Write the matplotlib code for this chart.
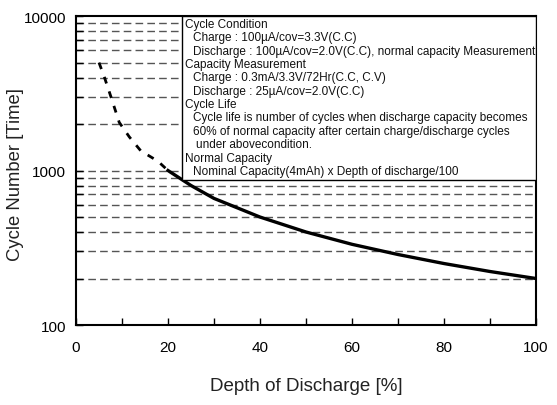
import matplotlib
matplotlib.use('Agg')
import matplotlib.pyplot as plt
from matplotlib.patches import Rectangle
from matplotlib.ticker import FixedLocator, NullFormatter

plt.rcParams['font.family'] = ['Liberation Sans', 'DejaVu Sans']

# dashed (extrapolated) part of the curve
dod_dash = [5, 6.2, 7.6, 9.4, 11.6, 14.1, 17.8, 20]
cyc_dash = [5000, 4000, 3000, 2050, 1650, 1340, 1150, 1000]

# solid part
dod = [20, 25, 30, 40, 50, 60, 70, 80, 90, 100]
cycles = [1000, 800, 660, 500, 400, 333, 286, 250, 222, 200]

grid_levels = [200, 300, 400, 500, 600, 700, 800, 900, 1000,
               2000, 3000, 4000, 5000, 6000, 7000, 8000, 9000]

note_lines = [
    ('Cycle Condition', 0),
    ('Charge : 100µA/cov=3.3V(C.C)', 1),
    ('Discharge : 100µA/cov=2.0V(C.C), normal capacity Measurement', 1),
    ('Capacity Measurement', 0),
    ('Charge : 0.3mA/3.3V/72Hr(C.C, C.V)', 1),
    ('Discharge : 25µA/cov=2.0V(C.C)', 1),
    ('Cycle Life', 0),
    ('Cycle life is number of cycles when discharge capacity becomes', 1),
    ('60% of normal capacity after certain charge/discharge cycles', 1),
    ('under abovecondition.', 2),
    ('Normal Capacity', 0),
    ('Nominal Capacity(4mAh) x Depth of discharge/100', 1),
]

fig = plt.figure(figsize=(5.57, 4.06), dpi=100)
ax = fig.add_axes([0.1364, 0.197, 0.826, 0.761])

for g in grid_levels:
    ax.axhline(g, color='#555555', lw=1, dashes=(5.5, 3), zorder=1)

ax.plot(dod_dash, cyc_dash, color='black', lw=2, dashes=(2.5, 3), zorder=3)
ax.plot(dod, cycles, color='black', lw=2.4, zorder=3)

ax.set_yscale('log')
ax.set_xlim(0, 100)
ax.set_ylim(100, 10000)

ax.xaxis.set_major_locator(FixedLocator([0, 20, 40, 60, 80, 100]))
ax.xaxis.set_minor_locator(FixedLocator([10, 30, 50, 70, 90]))
ax.yaxis.set_major_locator(FixedLocator([100, 1000, 10000]))
ax.yaxis.set_minor_locator(FixedLocator(grid_levels))
ax.yaxis.set_minor_formatter(NullFormatter())
ax.set_yticklabels(['100', '1000', '10000'])

ax.tick_params(axis='x', which='both', direction='in', length=5, width=1,
               labelsize=11, pad=11, top=False)
ax.tick_params(axis='y', which='both', direction='in', length=5, width=1,
               labelsize=11, pad=7, right=False)
for s in ax.spines.values():
    s.set_linewidth(1.5)

ax.set_xlabel('Depth of Discharge [%]', fontsize=13.5, labelpad=16, color='#222222')
ax.set_ylabel('Cycle Number [Time]', fontsize=13.3, color='#222222')
ax.yaxis.set_label_coords(-0.113, 0.49)

# note box
bx0 = 0.2304
by0 = 0.4700
ax.add_patch(Rectangle((bx0, by0), 1 - bx0, 1 - by0, transform=ax.transAxes,
                       facecolor='white', edgecolor='black', lw=1, zorder=4))
step = 13.35 / 309
y = 1 - 8.0 / 309
indent = {0: 0.0, 1: 8.0 / 460, 2: 11.0 / 460}
for txt, lvl in note_lines:
    ax.text(bx0 + 3.0 / 460 + indent[lvl], y, txt, transform=ax.transAxes,
            fontsize=8.5, va='center', ha='left', color='#111111', zorder=5)
    y -= step

fig.savefig('out.png', dpi=100)
